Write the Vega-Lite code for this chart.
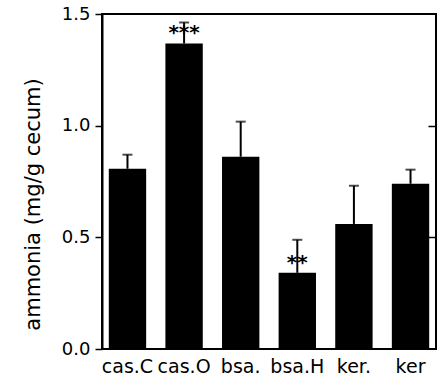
{
  "$schema": "https://vega.github.io/schema/vega-lite/v6.json",
  "width": 334,
  "height": 335,
  "autosize": {"type": "none"},
  "padding": {"left": 102, "top": 14, "right": 1, "bottom": 31},
  "background": "white",
  "config": {
    "view": {"stroke": "black", "strokeWidth": 2},
    "font": "DejaVu Sans"
  },
  "data": {
    "values": [
      {"group": "cas.C", "mean": 0.807, "upper": 0.87, "sig": ""},
      {"group": "cas.O", "mean": 1.368, "upper": 1.462, "sig": "***"},
      {"group": "bsa.", "mean": 0.861, "upper": 1.018, "sig": ""},
      {"group": "bsa.H", "mean": 0.341, "upper": 0.489, "sig": "**"},
      {"group": "ker.", "mean": 0.56, "upper": 0.731, "sig": ""},
      {"group": "ker", "mean": 0.74, "upper": 0.803, "sig": ""}
    ]
  },
  "encoding": {
    "x": {
      "field": "group",
      "type": "nominal",
      "sort": null,
      "scale": {"paddingInner": 0.34, "paddingOuter": 0.12},
      "axis": {
        "title": null,
        "labelAngle": 0,
        "labelFontSize": 19,
        "labelColor": "black",
        "labelPadding": 8,
        "labelOverlap": false,
        "labelLimit": 0,
        "ticks": false,
        "domain": false
      }
    }
  },
  "layer": [
    {
      "mark": {"type": "bar", "color": "black"},
      "encoding": {
        "y": {
          "field": "mean",
          "type": "quantitative",
          "scale": {"domain": [0, 1.5], "nice": false},
          "axis": {
            "title": "ammonia (mg/g cecum)",
            "titleFontSize": 21,
            "titleFontWeight": "normal",
            "titleColor": "black",
            "titlePadding": 18,
            "titleY": 190,
            "values": [0, 0.5, 1, 1.5],
            "format": ".1f",
            "labelFontSize": 18,
            "labelColor": "black",
            "labelPadding": 5,
            "tickSize": 7,
            "tickColor": "black",
            "tickWidth": 1.5,
            "domainColor": "black",
            "domainWidth": 2,
            "grid": false
          }
        }
      }
    },
    {
      "mark": {"type": "rule", "color": "black", "strokeWidth": 2},
      "encoding": {
        "y": {"field": "mean", "type": "quantitative", "axis": null},
        "y2": {"field": "upper"}
      }
    },
    {
      "mark": {"type": "tick", "color": "black", "thickness": 2, "size": 10, "orient": "horizontal"},
      "encoding": {
        "y": {"field": "upper", "type": "quantitative", "axis": null}
      }
    },
    {
      "mark": {"type": "text", "color": "black", "fontSize": 20, "fontWeight": "bold", "baseline": "middle", "dy": -10},
      "encoding": {
        "y": {
          "field": "mean",
          "type": "quantitative",
          "axis": {
            "orient": "right",
            "title": null,
            "labels": false,
            "domain": false,
            "grid": false,
            "values": [0.5, 1],
            "tickSize": -8,
            "tickColor": "black",
            "tickWidth": 1.5
          }
        },
        "text": {"field": "sig"}
      }
    }
  ],
  "resolve": {"axis": {"y": "independent"}}
}
